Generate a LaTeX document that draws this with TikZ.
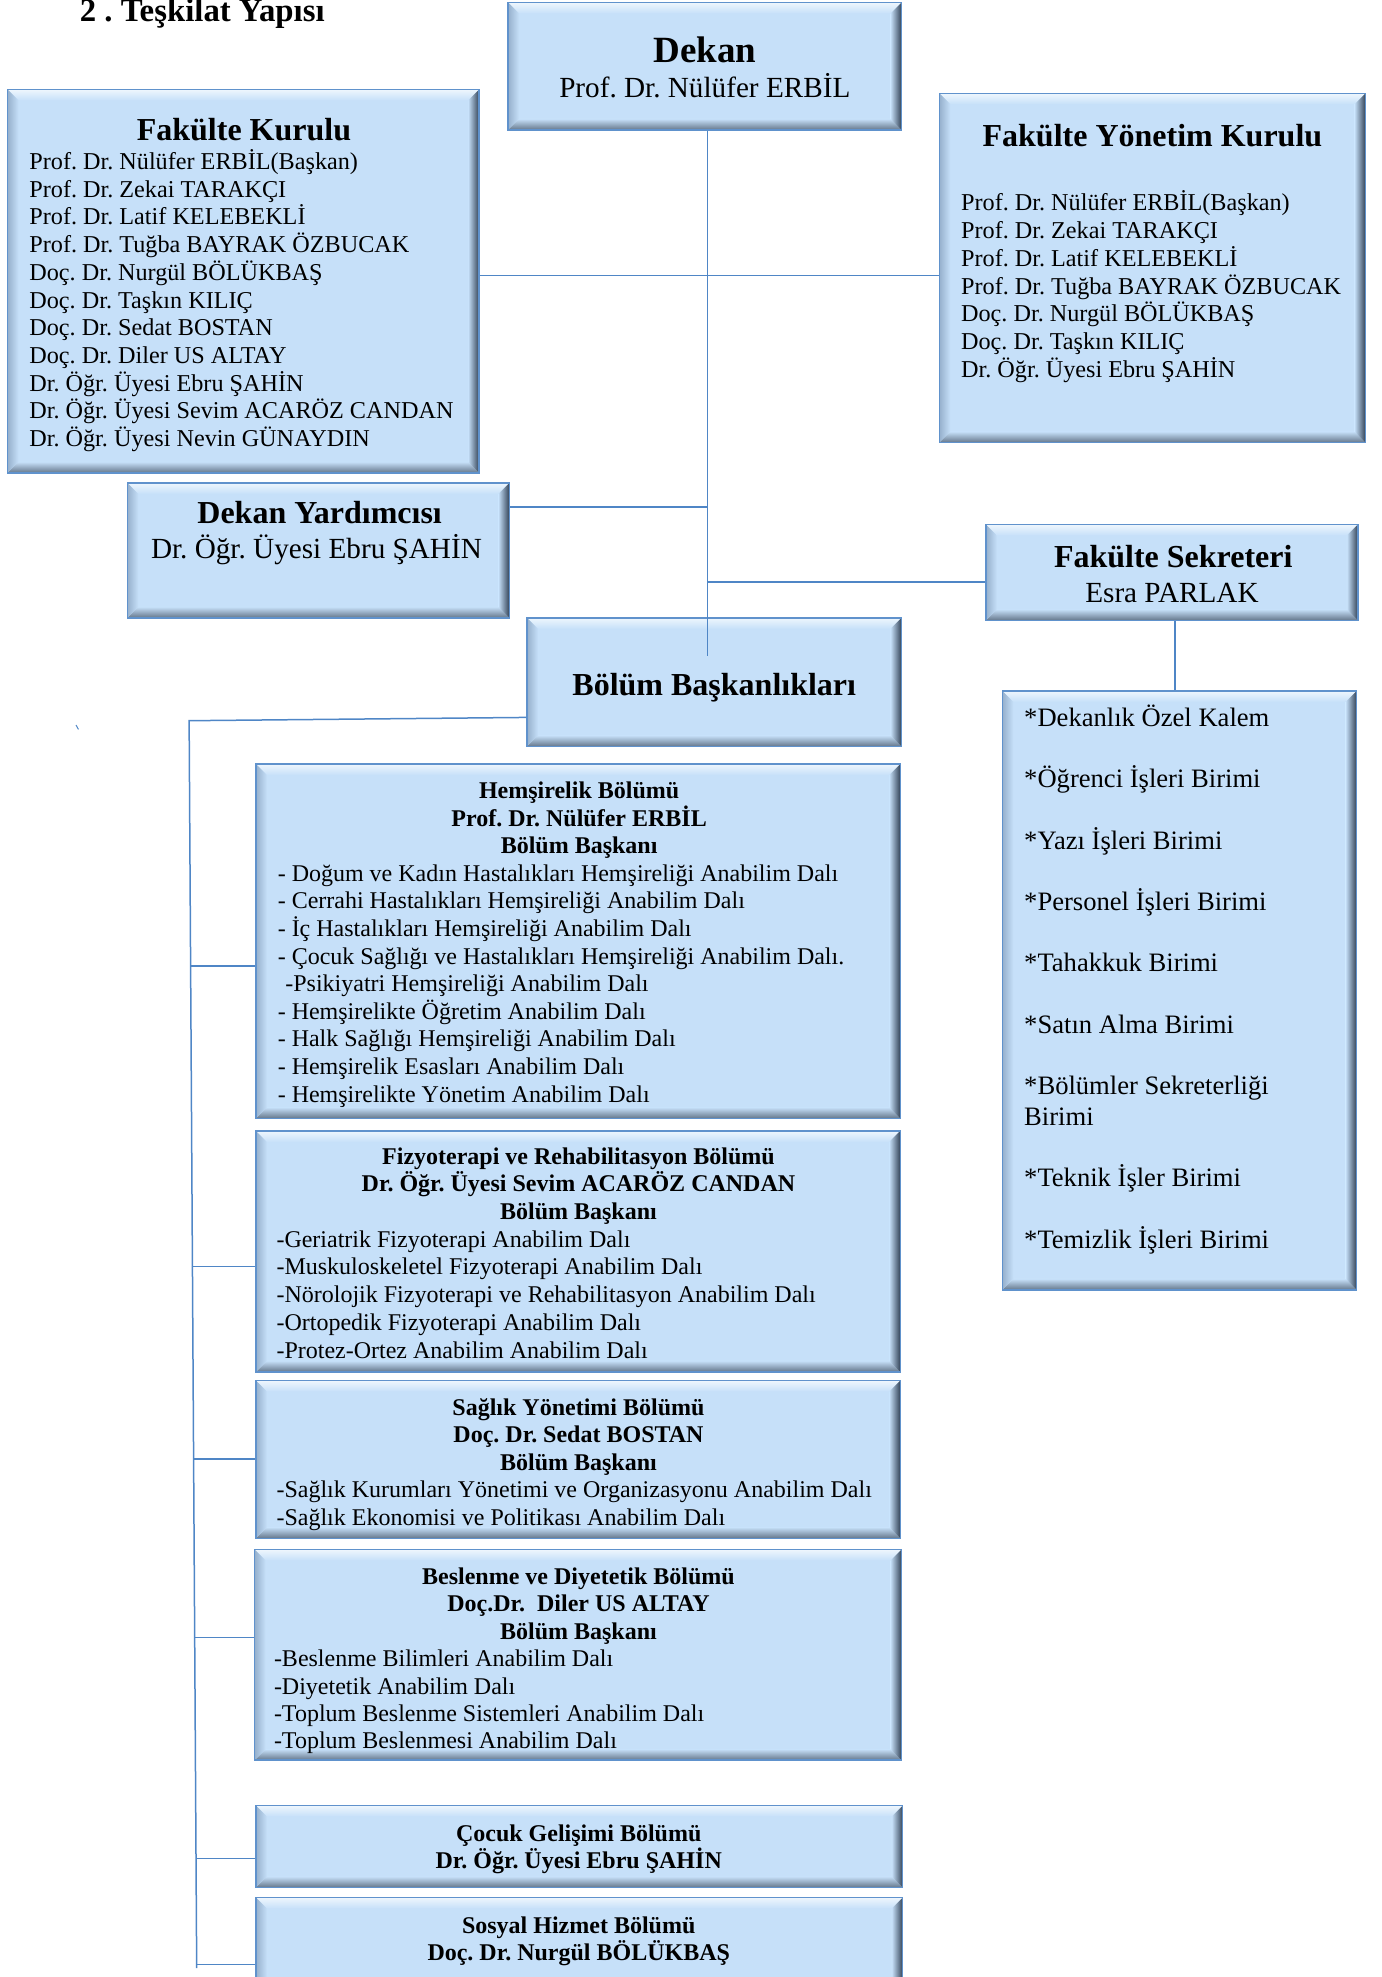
\documentclass[tikz,border=0pt]{standalone}
\usepackage{fontspec}
\setmainfont{Liberation Serif}
\usetikzlibrary{calc,fit}
\definecolor{boxfill}{RGB}{198,224,249}
\definecolor{boxline}{RGB}{96,146,204}
\definecolor{bevtop}{RGB}{238,246,253}
\definecolor{bevleft}{RGB}{150,176,204}
\definecolor{bevright}{RGB}{50,66,86}
\definecolor{bevbot}{RGB}{100,118,138}
\definecolor{conncol}{RGB}{79,134,198}
\newdimen\bvw \bvw=5.5pt
\tikzset{
  bevelbox/.style={draw=boxline, line width=0.7pt, fill=boxfill, inner sep=0pt, path picture={
    \coordinate (bbsw) at (path picture bounding box.south west);
    \coordinate (bbne) at (path picture bounding box.north east);
    \coordinate (bbnw) at (bbsw |- bbne);
    \coordinate (bbse) at (bbne |- bbsw);
    \shade[top color=bevtop, bottom color=boxfill] (bbnw) -- (bbne) -- ($(bbne)+(-\bvw,-\bvw)$) -- ($(bbnw)+(\bvw,-\bvw)$) -- cycle;
    \shade[top color=boxfill, bottom color=bevbot] (bbsw) -- (bbse) -- ($(bbse)+(-\bvw,\bvw)$) -- ($(bbsw)+(\bvw,\bvw)$) -- cycle;
    \shade[left color=bevleft, right color=boxfill] (bbsw) -- (bbnw) -- ($(bbnw)+(\bvw,-\bvw)$) -- ($(bbsw)+(\bvw,\bvw)$) -- cycle;
    \shade[left color=boxfill, right color=bevright] (bbse) -- (bbne) -- ($(bbne)+(-\bvw,-\bvw)$) -- ($(bbse)+(-\bvw,\bvw)$) -- cycle;
  }},
  conn/.style={draw=conncol, line width=0.75pt},
  ttl/.style={anchor=base, inner sep=0pt, font=\bfseries\fontsize{16}{19}\selectfont},
  nm/.style={anchor=base, inner sep=0pt, font=\fontsize{14.6}{17}\selectfont},
  lst/.style={anchor=base west, inner sep=0pt},
  ctr/.style={anchor=base, inner sep=0pt},
}
\newcommand\bx[5]{\node[bevelbox, fit={(#2,-#3) (#4,-#5)}] (#1) {};}
\newcommand\hd[1]{\makebox[\linewidth]{\bfseries #1}}
\begin{document}
\frenchspacing
\begin{tikzpicture}[x=0.6305pt,y=0.6305pt]
\useasboundingbox (0,0) rectangle (1096,-1568);
\clip (0,0) rectangle (1096,-1568);

% boxes
\bx{dekan}{403}{2}{715}{103}
\bx{fk}{6}{71}{380}{375}
\bx{fyk}{745}{74}{1083}{351}
\bx{dy}{101}{383}{404}{490}
\bx{fs}{782}{416}{1077}{492}
\bx{bb}{418}{490}{715}{592}
\bx{units}{795}{548}{1076}{1023}
\bx{hem}{203}{606}{714}{887}
\bx{fiz}{203}{897}{714}{1088}
\bx{sy}{203}{1095}{714}{1220}
\bx{bes}{202}{1229}{715}{1396}
\bx{cg}{203}{1432}{716}{1497}
\bx{sh}{203}{1505}{716}{1600}

% title
\node[anchor=base west, inner sep=0pt, font=\bfseries\fontsize{16.4}{19}\selectfont] (title) at (63,-17) {2 . Teşkilat Yapısı};

% Dekan
\node[ctr, font=\bfseries\fontsize{18.5}{22}\selectfont] (dekan-t) at (559,-49.7) {Dekan};
\node[nm] (dekan-n) at (559,-77.6) {Prof. Dr. Nülüfer ERBİL};

% Fakulte Kurulu
\node[ttl] (fk-t) at (193.5,-111.4) {Fakülte Kurulu};
\node[lst] (fk-l) at (23,-134.3) {\parbox[t]{240pt}{\fontsize{12.1}{13.87}\selectfont\raggedright
Prof. Dr. Nülüfer ERBİL(Başkan)\\
Prof. Dr. Zekai TARAKÇI\\
Prof. Dr. Latif KELEBEKLİ\\
Prof. Dr. Tuğba BAYRAK ÖZBUCAK\\
Doç. Dr. Nurgül BÖLÜKBAŞ\\
Doç. Dr. Taşkın KILIÇ\\
Doç. Dr. Sedat BOSTAN\\
Doç. Dr. Diler US ALTAY\\
Dr. Öğr. Üyesi Ebru ŞAHİN\\
Dr. Öğr. Üyesi Sevim ACARÖZ CANDAN\\
Dr. Öğr. Üyesi Nevin GÜNAYDIN}};

% Fakulte Yonetim Kurulu
\node[ttl] (fyk-t) at (914,-116.4) {Fakülte Yönetim Kurulu};
\node[lst] (fyk-l) at (762,-167.3) {\parbox[t]{220pt}{\fontsize{12.1}{13.87}\selectfont\raggedright
Prof. Dr. Nülüfer ERBİL(Başkan)\\
Prof. Dr. Zekai TARAKÇI\\
Prof. Dr. Latif KELEBEKLİ\\
Prof. Dr. Tuğba BAYRAK ÖZBUCAK\\
Doç. Dr. Nurgül BÖLÜKBAŞ\\
Doç. Dr. Taşkın KILIÇ\\
Dr. Öğr. Üyesi Ebru ŞAHİN}};

% Dekan Yardimcisi
\node[ttl] (dy-t) at (253.5,-415.4) {Dekan Yardımcısı};
\node[nm] (dy-n) at (251,-442.6) {Dr. Öğr. Üyesi Ebru ŞAHİN};

% Fakulte Sekreteri
\node[ttl] (fs-t) at (930.5,-450.4) {Fakülte Sekreteri};
\node[nm] (fs-n) at (929.5,-477.6) {Esra PARLAK};

% Bolum Baskanliklari
\node[ttl] (bb-t) at (566.5,-551.4) {Bölüm Başkanlıkları};

% units
\node[lst] (units-l) at (812,-576) {\parbox[t]{170pt}{\fontsize{13.3}{15.35}\selectfont\raggedright
*Dekanlık Özel Kalem\\[15.35pt]
*Öğrenci İşleri Birimi\\[15.35pt]
*Yazı İşleri Birimi\\[15.35pt]
*Personel İşleri Birimi\\[15.35pt]
*Tahakkuk Birimi\\[15.35pt]
*Satın Alma Birimi\\[15.35pt]
*Bölümler Sekreterliği\\
Birimi\\[15.35pt]
*Teknik İşler Birimi\\[15.35pt]
*Temizlik İşleri Birimi}};

% Hemsirelik
\node[lst] (hem-t) at (220,-633.3) {\parbox[t]{301.4pt}{\fontsize{12}{13.8}\selectfont\raggedright
\hd{Hemşirelik Bölümü}\\
\hd{Prof. Dr. Nülüfer ERBİL}\\
\hd{Bölüm Başkanı}\\
- Doğum ve Kadın Hastalıkları Hemşireliği Anabilim Dalı\\
- Cerrahi Hastalıkları Hemşireliği Anabilim Dalı\\
- İç Hastalıkları Hemşireliği Anabilim Dalı\\
- Çocuk Sağlığı ve Hastalıkları Hemşireliği Anabilim Dalı.\\
\hspace*{3.8pt}-Psikiyatri Hemşireliği Anabilim Dalı\\
- Hemşirelikte Öğretim Anabilim Dalı\\
- Halk Sağlığı Hemşireliği Anabilim Dalı\\
- Hemşirelik Esasları Anabilim Dalı\\
- Hemşirelikte Yönetim Anabilim Dalı}};

% Fizyoterapi
\node[lst] (fiz-t) at (219,-923.3) {\parbox[t]{302pt}{\fontsize{12}{13.85}\selectfont\raggedright
\hd{Fizyoterapi ve Rehabilitasyon Bölümü}\\
\hd{Dr. Öğr. Üyesi Sevim ACARÖZ CANDAN}\\
\hd{Bölüm Başkanı}\\
-Geriatrik Fizyoterapi Anabilim Dalı\\
-Muskuloskeletel Fizyoterapi Anabilim Dalı\\
-Nörolojik Fizyoterapi ve Rehabilitasyon Anabilim Dalı\\
-Ortopedik Fizyoterapi Anabilim Dalı\\
-Protez-Ortez Anabilim Anabilim Dalı}};

% Saglik Yonetimi
\node[lst] (sy-t) at (219,-1122.3) {\parbox[t]{302pt}{\fontsize{12}{13.75}\selectfont\raggedright
\hd{Sağlık Yönetimi Bölümü}\\
\hd{Doç. Dr. Sedat BOSTAN}\\
\hd{Bölüm Başkanı}\\
-Sağlık Kurumları Yönetimi ve Organizasyonu Anabilim Dalı\\
-Sağlık Ekonomisi ve Politikası Anabilim Dalı}};

% Beslenme
\node[lst] (bes-t) at (217,-1256.3) {\parbox[t]{304.5pt}{\fontsize{12}{13.75}\selectfont\raggedright
\hd{Beslenme ve Diyetetik Bölümü}\\
\hd{Doç.Dr.\ \ Diler US ALTAY}\\
\hd{Bölüm Başkanı}\\
-Beslenme Bilimleri Anabilim Dalı\\
-Diyetetik Anabilim Dalı\\
-Toplum Beslenme Sistemleri Anabilim Dalı\\
-Toplum Beslenmesi Anabilim Dalı}};

% Cocuk Gelisimi
\node[ctr] (cg-t) at (459,-1460.3) {\parbox[t]{300pt}{\centering\fontsize{12}{13.4}\selectfont\bfseries
Çocuk Gelişimi Bölümü\\
Dr. Öğr. Üyesi Ebru ŞAHİN}};

% Sosyal Hizmet
\node[ctr] (sh-t) at (459,-1533.3) {\parbox[t]{300pt}{\centering\fontsize{12}{13.8}\selectfont\bfseries
Sosyal Hizmet Bölümü\\
Doç. Dr. Nurgül BÖLÜKBAŞ}};

% connectors
\coordinate (spine) at (561,-520);
\draw[conn] (dekan.south -| spine) -- (spine);
\coordinate (hA) at (0,-218.5);
\draw[conn] (fk.east |- hA) -- (fyk.west |- hA);
\coordinate (hB) at (0,-402);
\draw[conn] (dy.east |- hB) -- (spine |- hB);
\coordinate (hC) at (0,-461.5);
\draw[conn] (spine |- hC) -- (fs.west |- hC);
\coordinate (vS) at (932,0);
\draw[conn] (fs.south -| vS) -- (units.north -| vS);
\coordinate (bbL) at (0,-569);
\coordinate (busT) at (150,-571.6);
\coordinate (busB) at (156,-1561);
\draw[conn] (bb.west |- bbL) -- (busT) -- (busB);
\foreach \n/\yy/\xx in {hem/766/151.2, fiz/1004.6/152.6, sy/1157.3/153.5, bes/1298.6/154.4, cg/1474/155.5, sh/1558/156}{
  \coordinate (br) at (\xx,-\yy);
  \draw[conn] (br) -- (br -| \n.west);
}
\coordinate (tickA) at (60.3,-575);
\coordinate (tickB) at (62.2,-578.5);
\draw[conn, line width=0.5pt] (tickA) -- (tickB);
\end{tikzpicture}
\end{document}
